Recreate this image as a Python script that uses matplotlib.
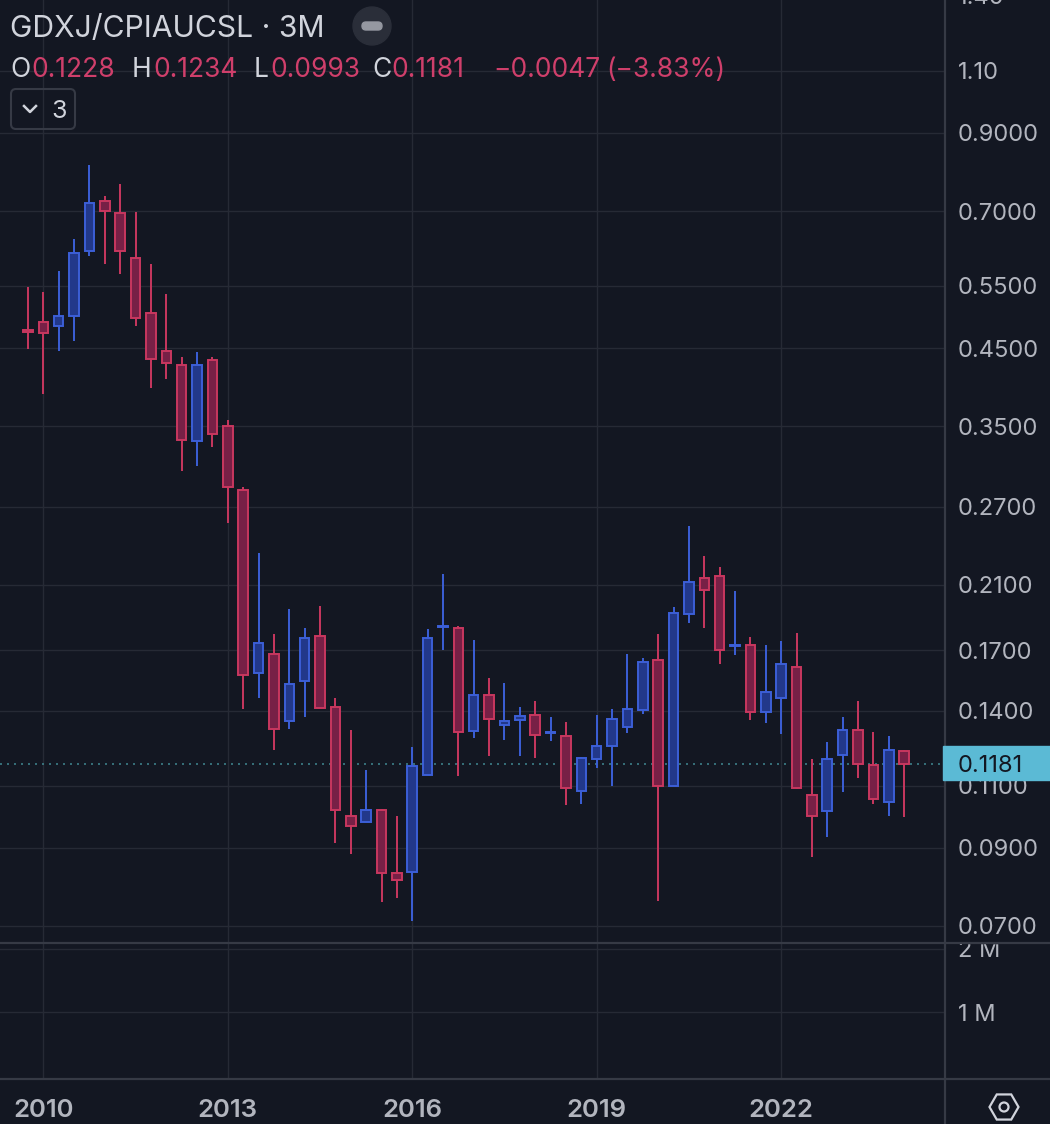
import matplotlib.pyplot as plt
import matplotlib.patches as mpatches
from matplotlib.lines import Line2D
from matplotlib.ticker import NullLocator
import numpy as np
import pandas as pd

# quarterly candles, GDXJ / CPI ratio
quarters = pd.period_range('2009Q4', '2024Q1', freq='Q')
opens = [0.477, 0.489, 0.483, 0.500, 0.615, 0.723, 0.695, 0.602, 0.504, 0.446,
         0.426, 0.334, 0.433, 0.350, 0.285, 0.158, 0.168, 0.1356, 0.154, 0.178,
         0.1418, 0.0999, 0.098, 0.1018, 0.0830, 0.0833, 0.114, 0.1834, 0.1826, 0.1313,
         0.1474, 0.1338, 0.1360, 0.1382, 0.1305, 0.1292, 0.1082, 0.1200, 0.1251, 0.1330,
         0.1405, 0.1651, 0.1100, 0.1913, 0.2148, 0.2162, 0.1724, 0.1733, 0.1396, 0.1460,
         0.1614, 0.1069, 0.1015, 0.1216, 0.1317, 0.1177, 0.1045, 0.1228]
highs = [0.548, 0.539, 0.577, 0.640, 0.812, 0.735, 0.764, 0.698, 0.590, 0.536,
         0.437, 0.444, 0.437, 0.357, 0.288, 0.233, 0.179, 0.194, 0.183, 0.196,
         0.146, 0.1317, 0.1158, 0.1020, 0.0999, 0.1247, 0.182, 0.2176, 0.1840, 0.1761,
         0.1557, 0.1532, 0.1418, 0.1446, 0.1373, 0.1351, 0.1206, 0.1382, 0.1409, 0.168,
         0.1657, 0.179, 0.1956, 0.254, 0.2306, 0.2225, 0.206, 0.1778, 0.1728, 0.175,
         0.1796, 0.120, 0.1268, 0.137, 0.1446, 0.1309, 0.1292, 0.1234]
lows = [0.449, 0.388, 0.446, 0.460, 0.606, 0.590, 0.572, 0.483, 0.396, 0.407,
        0.303, 0.308, 0.327, 0.256, 0.141, 0.146, 0.1235, 0.132, 0.137, 0.1412,
        0.0915, 0.0883, 0.0978, 0.0756, 0.0766, 0.0711, 0.1138, 0.1705, 0.1136, 0.1284,
        0.1212, 0.1276, 0.1212, 0.1204, 0.1272, 0.1035, 0.1038, 0.1166, 0.1097, 0.1305,
        0.1387, 0.0759, 0.1098, 0.1858, 0.1826, 0.1630, 0.1678, 0.136, 0.1347, 0.1301,
        0.1088, 0.0874, 0.0932, 0.1076, 0.1129, 0.1038, 0.0996, 0.0993]
closes = [0.474, 0.472, 0.500, 0.612, 0.718, 0.700, 0.616, 0.496, 0.434, 0.429,
          0.335, 0.426, 0.341, 0.288, 0.157, 0.174, 0.132, 0.1527, 0.177, 0.1414,
          0.1018, 0.0967, 0.1018, 0.083, 0.0812, 0.1173, 0.177, 0.1838, 0.1309, 0.1474,
          0.1364, 0.1356, 0.1378, 0.1296, 0.1309, 0.1093, 0.1204, 0.1251, 0.1364, 0.1409,
          0.1636, 0.1097, 0.1919, 0.212, 0.2066, 0.170, 0.1728, 0.1396, 0.1488, 0.1625,
          0.109, 0.0999, 0.120, 0.1317, 0.1181, 0.1055, 0.1235, 0.1181]

price_ticks = [0.07, 0.09, 0.11, 0.14, 0.17, 0.21, 0.27, 0.35, 0.45, 0.55, 0.7, 0.9, 1.1]
price_labels = ['0.0700', '0.0900', '0.1100', '0.1400', '0.1700', '0.2100', '0.2700',
                '0.3500', '0.4500', '0.5500', '0.7000', '0.9000', '1.10']
top_label = 1.40
vol_ticks = [1e6, 2e6]
vol_labels = ['1 M', '2 M']
year_labels = ['2010', '2013', '2016', '2019', '2022']
last_price = 0.1181

BG = '#131722'
GRID = '#262a35'
SEP = '#363a45'
TXT = '#b2b5be'
LIGHT = '#d1d4dc'
UP_EDGE, UP_FILL = '#3c5fd7', '#22388a'
DN_EDGE, DN_FILL = '#c8375f', '#772046'
RED_TXT = '#cf3f6b'

plt.rcParams['font.family'] = ['Inter', 'DejaVu Sans']

W, H = 1050, 1124
fig = plt.figure(figsize=(W / 100, H / 100), dpi=100, facecolor=BG)


def fx(px):
    return px / W


def fy(py):
    return 1 - py / H


def inch(px, py):
    return px / 100, (H - py) / 100


ax = fig.add_axes([0, fy(942), fx(945), 942 / H])
axv = fig.add_axes([0, fy(1079), fx(945), (1079 - 943) / H], sharex=ax)
for a in (ax, axv):
    a.set_facecolor(BG)
    for s in a.spines.values():
        s.set_visible(False)

x = np.arange(len(quarters))
o = np.array(opens)
c = np.array(closes)
up = c >= o
edge = np.where(up, UP_EDGE, DN_EDGE)
fill = np.where(up, UP_FILL, DN_FILL)

ax.vlines(x, lows, highs, colors=edge, lw=1.4, zorder=2)
ax.bar(x, np.abs(c - o), bottom=np.minimum(o, c), width=0.62, color=fill,
       edgecolor=edge, linewidth=1.4, zorder=3)

ax.set_yscale('log')
ax.set_ylim(0.06648, 1.3812)
ax.set_xlim(-1.82, 59.66)
ax.set_yticks(price_ticks, price_labels)
ax.yaxis.set_minor_locator(NullLocator())
ax.yaxis.tick_right()
ax.tick_params(axis='y', length=0, pad=9.4, labelsize=17, labelcolor=TXT)
ax.text(1 + 13 / 945, top_label, f'{top_label:.2f}', transform=ax.get_yaxis_transform(),
        va='center_baseline', ha='left', fontsize=17, color=TXT, clip_on=False)

year_idx = [i for i, q in enumerate(quarters)
            if q.quarter == 1 and str(q.year) in year_labels]
ax.set_xticks(year_idx)
ax.tick_params(axis='x', bottom=False, labelbottom=False)
ax.grid(True, color=GRID, lw=1, zorder=0)
ax.set_axisbelow(True)

ax.axhline(last_price, color='#3d7f89', lw=1.2, ls=(0, (1.2, 3)), zorder=1)

# empty volume pane
axv.set_ylim(-0.063e6, 2.095e6)
axv.set_yticks(vol_ticks, vol_labels)
axv.yaxis.tick_right()
axv.tick_params(axis='y', length=0, pad=9.4, labelsize=17, labelcolor=TXT)
axv.tick_params(axis='x', bottom=False, labelbottom=False)
axv.grid(True, color=GRID, lw=1)
axv.set_axisbelow(True)
for i, lab in zip(year_idx, year_labels):
    axv.text(i, -0.279, lab, transform=axv.get_xaxis_transform(), ha='center',
             va='baseline', fontsize=18.5, fontweight='semibold', color=TXT, clip_on=False)

# hide top of the "2 M" label under the pane divider
fig.add_artist(mpatches.Rectangle((fx(946), fy(942.5)), 1 - fx(946), 8 / H,
                                  transform=fig.transFigure, color=BG, zorder=2))

# pane dividers
fig.add_artist(Line2D([0, 1], [fy(942.5)] * 2, transform=fig.transFigure, color=SEP, lw=1.6, zorder=3))
fig.add_artist(Line2D([0, 1], [fy(1079)] * 2, transform=fig.transFigure, color=SEP, lw=1.6, zorder=3))
fig.add_artist(Line2D([fx(945)] * 2, [0, 1], transform=fig.transFigure, color=SEP, lw=1.6, zorder=3))

# last price tag
fig.add_artist(mpatches.Rectangle((fx(943), fy(780)), 1 - fx(943), 34 / H,
                                  transform=fig.transFigure, color='#5bbad5', zorder=4))
fig.text(fx(958), fy(763), f'{last_price:.4f}', va='center_baseline', ha='left',
         fontsize=17, color=BG, zorder=5)

# header
fig.text(fx(10), fy(37), 'GDXJ/CPIAUCSL · 3M', fontsize=21.7, color=LIGHT, va='baseline')
ohlc = [(10, 'O', LIGHT), (31, '0.1228', RED_TXT), (132, 'H', LIGHT), (153, '0.1234', RED_TXT),
        (254, 'L', LIGHT), (270, '0.0993', RED_TXT), (372, 'C', LIGHT), (391, '0.1181', RED_TXT),
        (493, '\u22120.0047', RED_TXT), (606, '(\u22123.83%)', RED_TXT)]
for px, s, col in ohlc:
    fig.text(fx(px), fy(77), s, fontsize=19, color=col, va='baseline')

# minus button
fig.add_artist(mpatches.Circle(inch(372, 26), 0.19, transform=fig.dpi_scale_trans,
                               color='#2a2e39', zorder=4))
fig.add_artist(mpatches.FancyBboxPatch(inch(362, 30), 0.20, 0.08,
                                       boxstyle='round,pad=0,rounding_size=0.04',
                                       transform=fig.dpi_scale_trans, color='#9598a1', zorder=5))

# collapsed indicators box
fig.add_artist(mpatches.FancyBboxPatch(inch(11, 129), 0.64, 0.40,
                                       boxstyle='round,pad=0,rounding_size=0.05',
                                       transform=fig.dpi_scale_trans, facecolor='none',
                                       edgecolor=SEP, lw=1.5, zorder=4))
cx, cy = zip(inch(24, 106), inch(30, 112), inch(36, 106))
fig.add_artist(Line2D(cx, cy, transform=fig.dpi_scale_trans, color=LIGHT, lw=1.8, zorder=5))
fig.text(fx(51), fy(118), '3', fontsize=18, color=LIGHT, va='baseline')

# settings icon
fig.add_artist(mpatches.RegularPolygon(inch(1004, 1107), 6, radius=0.145, orientation=np.pi / 6,
                                       transform=fig.dpi_scale_trans, facecolor='none',
                                       edgecolor=LIGHT, lw=1.6, zorder=5))
fig.add_artist(mpatches.Circle(inch(1004, 1107), 0.045, transform=fig.dpi_scale_trans,
                               facecolor='none', edgecolor=LIGHT, lw=1.6, zorder=5))

fig.savefig('out.png', dpi=100, facecolor=BG)
